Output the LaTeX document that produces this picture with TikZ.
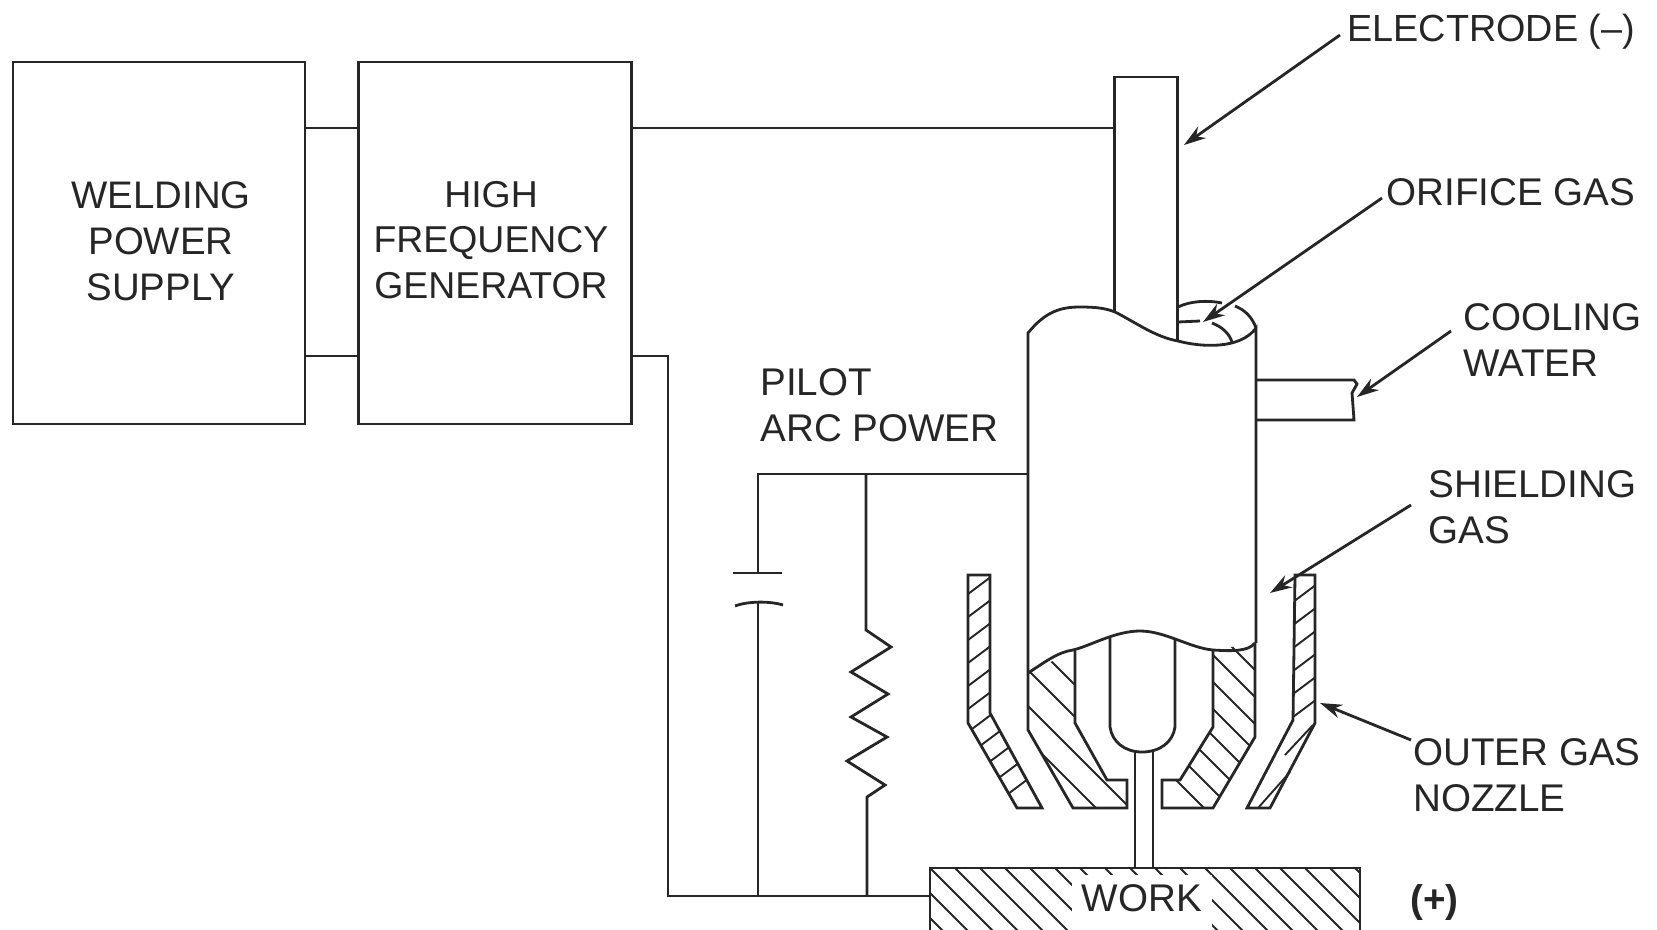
\documentclass[tikz,border=0pt]{standalone}
\usepackage{fontspec}
\setmainfont{Liberation Sans}
\usetikzlibrary{arrows.meta}
\newlength{\du}
\setlength{\du}{0.5pt}
\definecolor{dialinecolor}{rgb}{0.150000, 0.150000, 0.150000}
\tikzset{
  wire/.style={draw=dialinecolor, line width=2.8\du},
  hatchline/.style={draw=dialinecolor, line width=1.9\du},
  leader/.style={draw=dialinecolor, line width=2.8\du, -{Stealth[length=11pt,width=7pt]}},
  unitbox/.style={draw=dialinecolor, line width=2.8\du, inner sep=0pt, align=center},
  lbl/.style={text=dialinecolor, inner sep=0pt, align=left, anchor=west, font=\fontsize{19.3}{22.9}\selectfont},
  boxlbl/.style={text=dialinecolor, inner sep=0pt, align=center, font=\fontsize{19.2}{22.9}\selectfont},
}
\begin{document}
\begin{tikzpicture}
\pgftransformxscale{1.000000}
\pgftransformyscale{-1.000000}
\useasboundingbox (0\du,0\du) rectangle (1657\du,930\du);
% supply boxes
\node[unitbox, minimum width=292\du, minimum height=362\du] (supply) at (159\du,243\du){};
\node[boxlbl] (supplylbl) at (161\du,241\du){WELDING\\POWER\\SUPPLY};
\node[unitbox, minimum width=273\du, minimum height=362\du] (hfgen) at (495\du,243\du){};
\node[boxlbl, font=\fontsize{18.7}{22.9}\selectfont] (hfgenlbl) at (491\du,240\du){HIGH\\FREQUENCY\\GENERATOR};
\coordinate (upperw) at (300\du,128\du);
\coordinate (lowerw) at (300\du,356\du);
\draw[wire] (supply.east |- upperw)--(hfgen.west |- upperw);
\draw[wire] (supply.east |- lowerw)--(hfgen.west |- lowerw);
% electrode, its foot goes behind the torch
\node[unitbox, fill=white, minimum width=63\du, minimum height=268\du] (electrode) at (1146\du,211\du){};
\draw[wire] (hfgen.east |- upperw)--(electrode.west |- upperw);
% torch body
\filldraw[wire, fill=white] (1028\du,673\du)--(1028\du,333\du)
  .. controls (1045\du,312\du) and (1060\du,307\du) .. (1080\du,307\du)
  .. controls (1095\du,307\du) and (1105\du,308\du) .. (1115\du,312\du)
  .. controls (1135\du,322\du) and (1155\du,337\du) .. (1178\du,341\du)
  .. controls (1200\du,347\du) and (1240\du,350\du) .. (1256\du,328\du)
  --(1256\du,643\du);
\draw[wire] (1178\du,307\du) .. controls (1190\du,301\du) and (1208\du,300\du) .. (1222\du,303\du);
\draw[wire] (1235\du,306\du) .. controls (1245\du,310\du) and (1252\du,317\du) .. (1256\du,328\du);
\draw[wire] (1178\du,322\du)--(1200\du,321\du);
\draw[wire] (1212\du,323\du) .. controls (1222\du,327\du) and (1229\du,333\du) .. (1232\du,342\du);
% cooling water pipe
\draw[wire] (1256\du,380\du)--(1354\du,380\du)--(1357\du,384\du)--(1352\du,393\du)--(1354\du,420\du)--(1256\du,420\du);
% inner nozzle, left
\begin{scope}
\clip (1028\du,673\du)--(1028\du,730\du)--(1073\du,808\du)--(1127\du,808\du)--(1127\du,780\du)--(1107\du,780\du)--(1075\du,723\du)--(1075\du,650\du)--cycle;
\foreach \hx in {390,358,322,288}
  \draw[hatchline] (\hx\du+600\du,600\du)--++(300\du,300\du);
\end{scope}
\draw[wire] (1028\du,673\du)--(1028\du,730\du)--(1073\du,808\du)--(1127\du,808\du)--(1127\du,780\du)--(1107\du,780\du)--(1075\du,723\du)--(1075\du,651\du);
% inner nozzle, right
\begin{scope}
\clip (1255\du,643\du)--(1255\du,737\du)--(1213\du,808\du)--(1162\du,808\du)--(1162\du,780\du)--(1180\du,780\du)--(1213\du,727\du)--(1213\du,650\du)--cycle;
\foreach \hx in {585,558,531,504,477,450,423,396}
  \draw[hatchline] (\hx\du+600\du,600\du)--++(300\du,300\du);
\end{scope}
\draw[wire] (1255\du,643\du)--(1255\du,737\du)--(1213\du,808\du)--(1162\du,808\du)--(1162\du,780\du)--(1180\du,780\du)--(1213\du,727\du)--(1213\du,650\du);
% break line over the torch
\draw[wire] (1028\du,673\du) .. controls (1045\du,662\du) and (1058\du,652\du) .. (1073\du,650\du)
  .. controls (1090\du,646\du) and (1115\du,631\du) .. (1140\du,631\du)
  .. controls (1165\du,631\du) and (1190\du,648\du) .. (1213\du,650\du)
  .. controls (1230\du,651\du) and (1248\du,652\du) .. (1255\du,643\du);
% tungsten tip
\draw[wire] (1110\du,638\du)--(1110\du,727\du) .. controls (1112\du,742\du) and (1125\du,752\du) .. (1142\du,752\du)
  .. controls (1160\du,752\du) and (1173\du,742\du) .. (1175\du,727\du)--(1175\du,640\du);
% arc column
\draw[wire] (1135\du,752\du)--(1135\du,868\du);
\draw[wire] (1153\du,752\du)--(1153\du,868\du);
% outer nozzle, left
\begin{scope}
\clip (968\du,575\du)--(990\du,575\du)--(990\du,713\du)--(1042\du,808\du)--(1017\du,808\du)--(968\du,723\du)--cycle;
\foreach \hy in {600,623,646,669,692,715,738,761,784,807,830}
  \draw[hatchline] (960\du,\hy\du)--++(100\du,-75\du);
\end{scope}
\draw[wire] (968\du,575\du)--(990\du,575\du)--(990\du,713\du)--(1042\du,808\du)--(1017\du,808\du)--(968\du,723\du)--cycle;
% outer nozzle, right
\begin{scope}
\clip (1295\du,575\du)--(1315\du,575\du)--(1315\du,723\du)--(1270\du,808\du)--(1247\du,808\du)--(1293\du,720\du)--cycle;
\foreach \hy in {608,631,654,677,700,723}
  \draw[hatchline] (1285\du,\hy\du)--++(40\du,-30\du);
\end{scope}
\draw[hatchline] (1313\du,725\du)--(1285\du,755\du);
\draw[hatchline] (1290\du,772\du)--(1258\du,808\du);
\draw[wire] (1295\du,575\du)--(1315\du,575\du)--(1315\du,723\du)--(1270\du,808\du)--(1247\du,808\du)--(1293\du,720\du)--cycle;
% work piece
\begin{scope}
\clip (930\du,868\du) rectangle (1360\du,930\du);
\foreach \hx in {880,905,...,1360}
  \draw[hatchline] (\hx\du,868\du)--++(70\du,70\du);
\end{scope}
\node[fill=white, minimum width=140\du, minimum height=56\du, inner sep=0pt] (workgap) at (1142\du,903\du){};
\node[draw=dialinecolor, line width=2.8\du, minimum width=430\du, minimum height=66\du, inner sep=0pt] (work) at (1145\du,901\du){};
\node[inner sep=0pt, text=dialinecolor, font=\fontsize{19.3}{22.9}\selectfont] (worklbl) at (1142\du,898\du){WORK};
% return and pilot wiring
\coordinate (torchl) at (1028\du,474\du);
\coordinate (capa) at (758\du,573\du);
\coordinate (capb) at (758\du,603\du);
\coordinate (capl) at (733\du,573\du);
\coordinate (capr) at (782\du,573\du);
\coordinate (resa) at (866\du,630\du);
\coordinate (resb) at (867\du,797\du);
\coordinate (retc) at (668\du,896\du);
\draw[wire] (hfgen.east |- lowerw)--(668\du,356\du)--(retc)--(work.west |- retc);
\draw[wire] (torchl)--(758\du,474\du)--(capa);
\draw[wire] (capl)--(capr);
\draw[wire] (735\du,606\du) .. controls (748\du,601\du) and (770\du,601\du) .. (783\du,605\du);
\draw[wire] (capb)--(758\du,896\du);
\draw[wire] (866\du,474\du)--(resa)--(891\du,647\du)--(851\du,672\du)--(888\du,694\du)--(851\du,717\du)--(887\du,737\du)--(847\du,761\du)--(885\du,785\du)--(resb)--(867\du,896\du);
% labels
\node[lbl, font=\fontsize{18.9}{22.9}\selectfont] (elbl) at (1347\du,32\du){ELECTRODE (--)};
\node[lbl] (olbl) at (1386\du,192\du){ORIFICE GAS};
\node[lbl] (clbl) at (1463\du,340\du){COOLING\\WATER};
\node[lbl] (slbl) at (1428\du,507\du){SHIELDING\\GAS};
\node[lbl] (nlbl) at (1413\du,775\du){OUTER GAS\\NOZZLE};
\node[lbl] (plbl) at (1410\du,903\du){\textbf{(+)}};
\node[lbl] (pilot) at (760\du,405\du){PILOT\\ARC POWER};
% leaders
\coordinate (etip) at (1184\du,145\du);
\coordinate (otip) at (1203\du,322\du);
\coordinate (ctip) at (1357\du,397\du);
\coordinate (stip) at (1270\du,593\du);
\coordinate (ntip) at (1320\du,703\du);
\draw[leader] (1340\du,35\du)--(etip);
\draw[leader] (1382\du,198\du)--(otip);
\draw[leader] (1451\du,331\du)--(ctip);
\draw[leader] (1411\du,505\du)--(stip);
\draw[leader] (1411\du,740\du)--(ntip);
\end{tikzpicture}
\end{document}
